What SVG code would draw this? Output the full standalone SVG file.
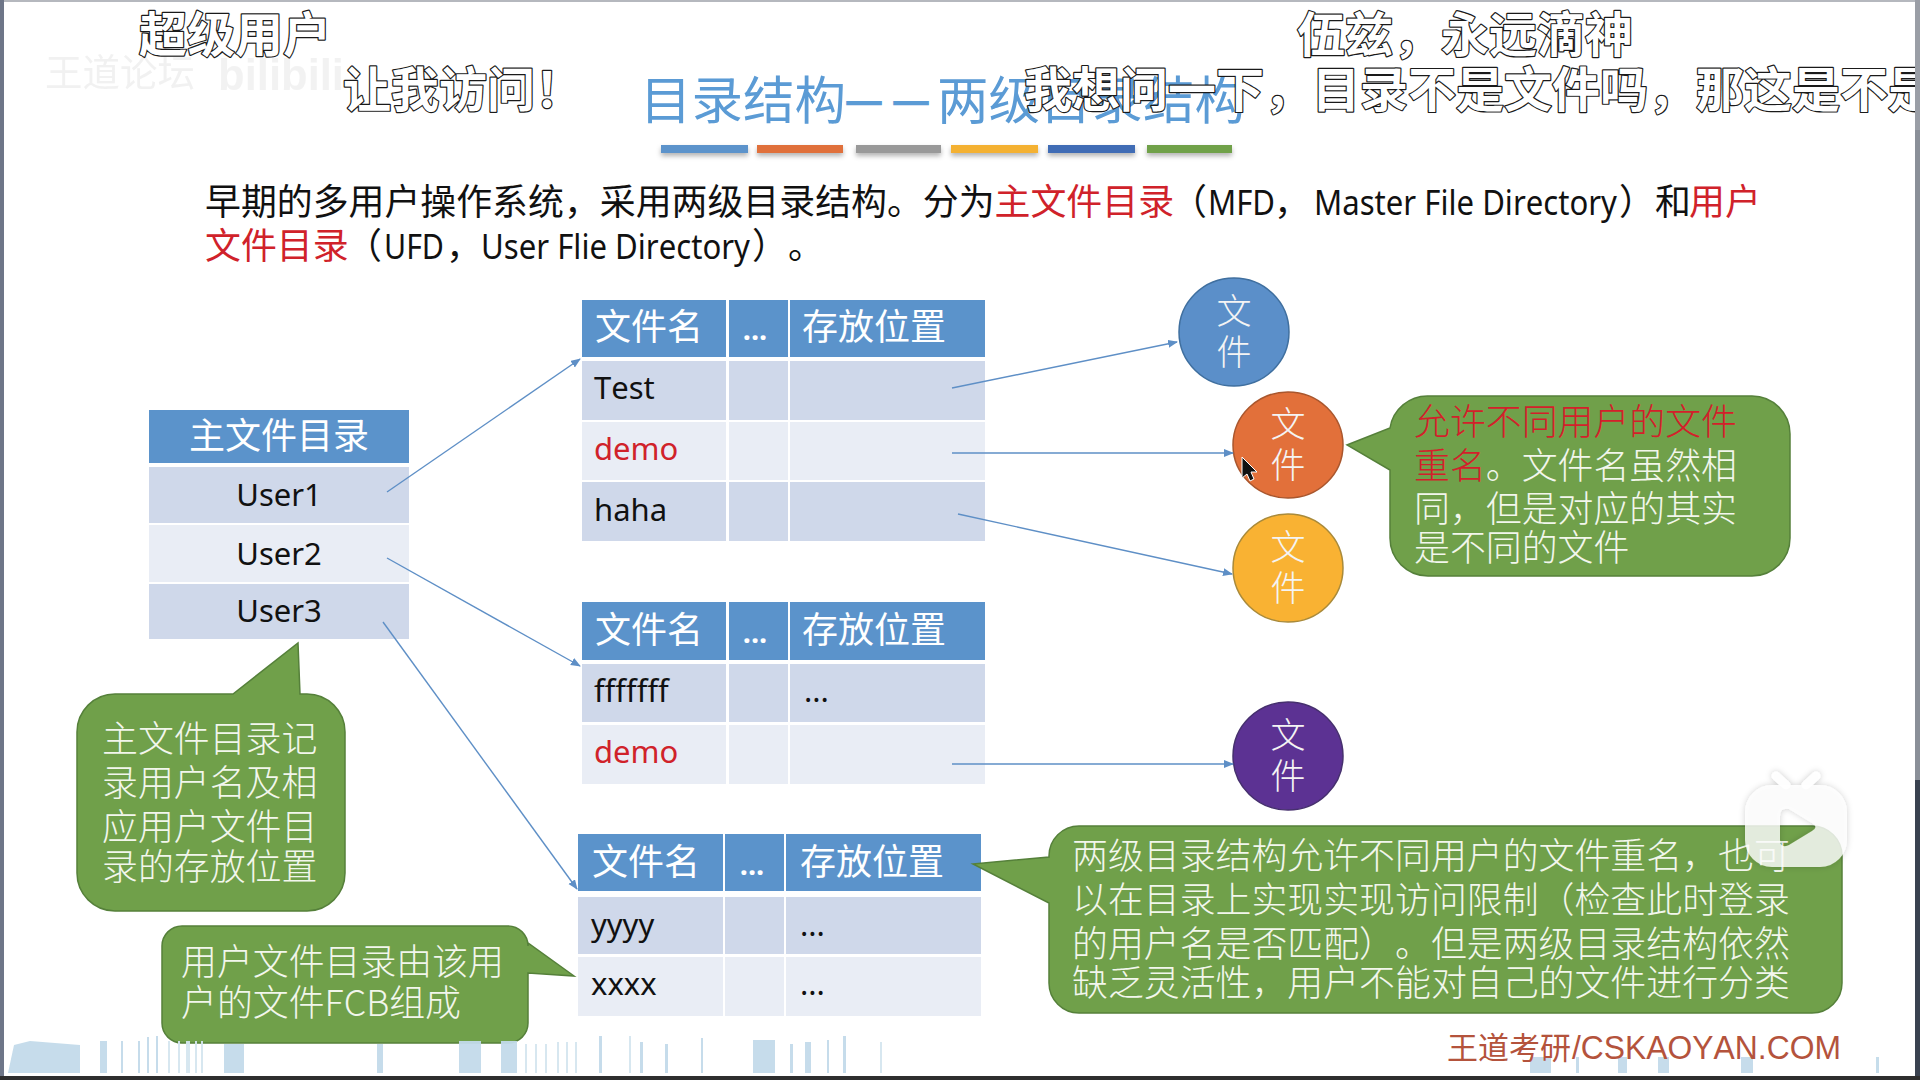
<svg xmlns="http://www.w3.org/2000/svg" width="1920" height="1080" viewBox="0 0 1920 1080">
<style>
text{font-family:"Noto Sans CJK SC","Noto Sans",sans-serif;text-spacing-trim:space-all;font-kerning:none}
.body{font-size:35.9px;fill:#111}
.red{fill:#D0222A}
.lat{font-family:"Noto Sans","Noto Sans CJK SC",sans-serif;font-size:35px}
.wt{font-size:35.9px;fill:#F2F6EC;font-weight:300}
.hd{font-size:36px;fill:#fff}
.dots{font-size:29px;fill:#fff;font-weight:700;text-anchor:middle;font-family:"Noto Sans",sans-serif}
.cell{font-size:31px;fill:#111;font-family:"Noto Sans","Noto Sans CJK SC",sans-serif}
.dk{fill:#CFD8EA}
.lt{fill:#E9EDF5}
.h{fill:#5B93CB}
.sub{font-size:48px;font-weight:700;fill:#fff;stroke:#1a1a1a;stroke-width:2.4px;paint-order:stroke;stroke-linejoin:round}
.co{fill:#70A04A;stroke:#55803A;stroke-width:1.5}
.c{stroke-width:1.5}
.ct{font-size:35px;fill:#F4F4F4;text-anchor:middle;font-weight:300}
.ar{fill:none;stroke:#5E8FC6;stroke-width:1.4;marker-end:url(#ah)}
.b{fill:#C3DBEA}
.bt{fill:#D5E6F0}
.tt{font-size:51.5px;fill:#5B9BD5}
.ds{font-size:44px;fill:#5B9BD5;font-weight:700}
</style>
<defs>
<marker id="ah" markerWidth="12" markerHeight="10" refX="9" refY="4" orient="auto" markerUnits="userSpaceOnUse"><path d="M0 0L10 4L0 8Z" fill="#5E8FC6"/></marker>
<filter id="sh" x="-10%" y="-60%" width="120%" height="300%"><feDropShadow dx="0" dy="3" stdDeviation="2.5" flood-color="#000" flood-opacity=".3"/></filter>
<filter id="soft" x="-20%" y="-20%" width="140%" height="140%"><feDropShadow dx="0" dy="0" stdDeviation="3" flood-color="#000" flood-opacity=".22"/></filter>
</defs>
<rect width="1920" height="1080" fill="#fff"/>
<rect x="0" y="0" width="1920" height="2" fill="#B5B8BE"/>
<rect x="0" y="0" width="4" height="1080" fill="#6E7688"/>
<rect x="1915" y="0" width="5" height="1080" fill="#8A8F98"/>
<rect x="1915" y="780" width="5" height="300" fill="#3A4250"/>
<rect x="0" y="1076" width="1920" height="4" fill="#2E2E2E"/>

<g id="title">
<text class="tt" x="640" y="119">目录结构</text>
<text class="ds" x="844" y="116">—</text>
<text class="ds" x="891" y="116">—</text>
<text class="tt" x="937" y="119">两级目录结构</text>
<g filter="url(#sh)">
<rect x="661" y="145" width="87" height="8" fill="#5B93CB"/>
<rect x="757" y="145" width="86" height="8" fill="#E0703A"/>
<rect x="856" y="145" width="85" height="8" fill="#999"/>
<rect x="951" y="145" width="87" height="8" fill="#F4B133"/>
<rect x="1048" y="145" width="87" height="8" fill="#3F6CB5"/>
<rect x="1147" y="145" width="85" height="8" fill="#6FA14A"/>
</g>
</g>

<g id="intro">
<text class="body" x="205" y="215">早期的多用户操作系统，采用两级目录结构。分为<tspan class="red">主文件目录</tspan></text>
<text class="body" x="1171" y="215">（</text>
<text class="body lat" x="1208" y="215" textLength="67" lengthAdjust="spacingAndGlyphs">MFD</text>
<text class="body" x="1274" y="215">，</text>
<text class="body lat" x="1314" y="215" textLength="303" lengthAdjust="spacingAndGlyphs">Master File Directory</text>
<text class="body" x="1619" y="215">）和</text>
<text class="body red" x="1689" y="215">用户</text>
<text class="body red" x="205" y="259">文件目录</text>
<text class="body" x="346" y="259">（</text>
<text class="body lat" x="384" y="259" textLength="60" lengthAdjust="spacingAndGlyphs">UFD</text>
<text class="body" x="446" y="259">，</text>
<text class="body lat" x="481" y="259" textLength="269" lengthAdjust="spacingAndGlyphs">User Flie Directory</text>
<text class="body" x="752" y="259">）。</text>
</g>

<g id="node-mfd">
<rect class="h" x="149" y="410" width="260" height="53"/>
<rect class="dk" x="149" y="467" width="260" height="56"/>
<rect class="lt" x="149" y="525" width="260" height="57"/>
<rect class="dk" x="149" y="584" width="260" height="55"/>
<text class="hd" x="279" y="449" text-anchor="middle">主文件目录</text>
<text class="cell" x="279" y="506" text-anchor="middle">User1</text>
<text class="cell" x="279" y="565" text-anchor="middle">User2</text>
<text class="cell" x="279" y="622" text-anchor="middle">User3</text>
</g>

<g id="node-ufd1">
<rect class="h" x="582" y="300" width="144" height="57"/><rect class="h" x="729" y="300" width="59" height="57"/><rect class="h" x="790" y="300" width="195" height="57"/>
<rect class="dk" x="582" y="361" width="144" height="59"/><rect class="dk" x="729" y="361" width="59" height="59"/><rect class="dk" x="790" y="361" width="195" height="59"/>
<rect class="lt" x="582" y="422" width="144" height="58"/><rect class="lt" x="729" y="422" width="59" height="58"/><rect class="lt" x="790" y="422" width="195" height="58"/>
<rect class="dk" x="582" y="482" width="144" height="59"/><rect class="dk" x="729" y="482" width="59" height="59"/><rect class="dk" x="790" y="482" width="195" height="59"/>
<text class="hd" x="595" y="340">文件名</text><text class="dots" x="755" y="340">...</text><text class="hd" x="802" y="340">存放位置</text>
<text class="cell" x="594" y="399">Test</text>
<text class="cell" x="594" y="460" style="fill:#D0222A">demo</text>
<text class="cell" x="594" y="521">haha</text>
</g>

<g id="node-ufd2">
<rect class="h" x="582" y="602" width="144" height="58"/><rect class="h" x="729" y="602" width="59" height="58"/><rect class="h" x="790" y="602" width="195" height="58"/>
<rect class="dk" x="582" y="664" width="144" height="58"/><rect class="dk" x="729" y="664" width="59" height="58"/><rect class="dk" x="790" y="664" width="195" height="58"/>
<rect class="lt" x="582" y="725" width="144" height="59"/><rect class="lt" x="729" y="725" width="59" height="59"/><rect class="lt" x="790" y="725" width="195" height="59"/>
<text class="hd" x="595" y="643">文件名</text><text class="dots" x="755" y="643">...</text><text class="hd" x="802" y="643">存放位置</text>
<text class="cell" x="594" y="702">fffffff</text><text class="cell" x="804" y="702">...</text>
<text class="cell" x="594" y="763" style="fill:#D0222A">demo</text>
</g>

<g id="node-ufd3">
<rect class="h" x="578" y="834" width="145" height="57"/><rect class="h" x="725" y="834" width="59" height="57"/><rect class="h" x="786" y="834" width="195" height="57"/>
<rect class="dk" x="578" y="897" width="145" height="57"/><rect class="dk" x="725" y="897" width="59" height="57"/><rect class="dk" x="786" y="897" width="195" height="57"/>
<rect class="lt" x="578" y="957" width="145" height="59"/><rect class="lt" x="725" y="957" width="59" height="59"/><rect class="lt" x="786" y="957" width="195" height="59"/>
<text class="hd" x="592" y="875">文件名</text><text class="dots" x="752" y="875">...</text><text class="hd" x="800" y="875">存放位置</text>
<text class="cell" x="591" y="936">yyyy</text><text class="cell" x="800" y="936">...</text>
<text class="cell" x="591" y="995">xxxx</text><text class="cell" x="800" y="995">...</text>
</g>

<g id="node-file1"><ellipse class="c" cx="1234" cy="332" rx="55" ry="54" fill="#5B8FC9" stroke="#3F6F9F"/><text class="ct" x="1234" y="324">文</text><text class="ct" x="1234" y="365">件</text></g>
<g id="node-file2"><ellipse class="c" cx="1288" cy="445" rx="55" ry="53" fill="#E2703A" stroke="#A9562D"/><text class="ct" x="1288" y="437">文</text><text class="ct" x="1288" y="478">件</text></g>
<g id="node-file3"><ellipse class="c" cx="1288" cy="568" rx="55" ry="54" fill="#F9B233" stroke="#A98A3A"/><text class="ct" x="1288" y="560">文</text><text class="ct" x="1288" y="601">件</text></g>
<g id="node-file4"><ellipse class="c" cx="1288" cy="756" rx="55" ry="54" fill="#5C3293" stroke="#46306E"/><text class="ct" x="1288" y="748">文</text><text class="ct" x="1288" y="789">件</text></g>

<g id="connectors">
<path class="ar" d="M387 492L580 359"/>
<path class="ar" d="M387 558L580 666"/>
<path class="ar" d="M383 622L577 889"/>
<path class="ar" d="M952 388L1177 342"/>
<path class="ar" d="M952 453L1233 453"/>
<path class="ar" d="M958 514L1232 574"/>
<path class="ar" d="M952 764L1233 764"/>
</g>

<g id="node-note-rename">
<path class="co" d="M1428 396H1752A38 38 0 0 1 1790 434V538A38 38 0 0 1 1752 576H1428A38 38 0 0 1 1390 538V470L1347 445L1390 428A38 38 0 0 1 1428 396Z"/>
<text x="1414" y="435" font-size="35.9" font-weight="300" fill="#D3202A">允许不同用户的文件</text>
<text x="1414" y="479" font-size="35.9" font-weight="300"><tspan fill="#D3202A">重名</tspan><tspan fill="#F2F6EC">。文件名虽然相</tspan></text>
<text class="wt" x="1414" y="522">同，但是对应的其实</text>
<text class="wt" x="1414" y="561">是不同的文件</text>
</g>

<g id="node-note-mfd">
<path class="co" d="M115 694H233L298 643L300 694H307A38 38 0 0 1 345 732V873A38 38 0 0 1 307 911H115A38 38 0 0 1 77 873V732A38 38 0 0 1 115 694Z"/>
<text class="wt" x="102" y="752">主文件目录记</text>
<text class="wt" x="102" y="796">录用户名及相</text>
<text class="wt" x="102" y="840">应用户文件目</text>
<text class="wt" x="102" y="880">录的存放位置</text>
</g>

<g id="node-note-ufd">
<path class="co" d="M182 926H508A20 20 0 0 1 528 946V943L574 976L528 973V1023A20 20 0 0 1 508 1043H182A20 20 0 0 1 162 1023V946A20 20 0 0 1 182 926Z"/>
<text class="wt" x="181" y="975">用户文件目录由该用</text>
<text class="wt" x="181" y="1016">户的文件FCB组成</text>
</g>

<g id="node-note-summary">
<path class="co" d="M1079 826H1812A30 30 0 0 1 1842 856V983A30 30 0 0 1 1812 1013H1079A30 30 0 0 1 1049 983V903L973 864L1049 857V856A30 30 0 0 1 1079 826Z"/>
<text class="wt" x="1072" y="869">两级目录结构允许不同用户的文件重名，也可</text>
<text class="wt" x="1072" y="913">以在目录上实现实现访问限制（检查此时登录</text>
<text class="wt" x="1072" y="957">的用户名是否匹配）。但是两级目录结构依然</text>
<text class="wt" x="1072" y="996">缺乏灵活性，用户不能对自己的文件进行分类</text>
</g>

<g id="cursor"><path d="M1242 457V478L1247 474L1250 481L1254 479L1251 472L1257 472Z" fill="#111" stroke="#fff" stroke-width="1"/></g>

<g id="footer-bars" opacity=".95">
<path class="b" d="M8 1073L14 1045L30 1041L80 1045V1073Z"/>
<rect class="b" x="100" y="1041" width="7" height="32"/><rect class="b" x="121" y="1041" width="2" height="32"/><rect class="b" x="138" y="1041" width="2" height="32"/><rect class="b" x="147" y="1037" width="2" height="36"/><rect class="b" x="156" y="1036" width="2" height="37"/>
<rect class="bt" x="168" y="1041" width="2" height="32"/><rect class="bt" x="178" y="1041" width="2" height="32"/><rect class="bt" x="186" y="1041" width="4" height="32"/><rect class="bt" x="195" y="1041" width="2" height="32"/><rect class="bt" x="201" y="1041" width="2" height="32"/>
<rect class="b" x="224" y="1044" width="20" height="29"/><rect class="b" x="377" y="1044" width="6" height="29"/><rect class="b" x="459" y="1041" width="22" height="32"/><rect class="b" x="501" y="1041" width="16" height="32"/>
<rect class="bt" x="525" y="1044" width="2" height="29"/><rect class="bt" x="535" y="1044" width="2" height="29"/><rect class="bt" x="545" y="1044" width="2" height="29"/><rect class="bt" x="557" y="1042" width="2" height="31"/><rect class="bt" x="566" y="1042" width="2" height="31"/><rect class="bt" x="575" y="1042" width="2" height="31"/><rect class="b" x="599" y="1036" width="3" height="37"/><rect class="bt" x="629" y="1036" width="2" height="37"/><rect class="b" x="640" y="1042" width="3" height="31"/><rect class="b" x="665" y="1044" width="3" height="29"/><rect class="b" x="701" y="1038" width="2" height="35"/>
<rect class="b" x="753" y="1040" width="22" height="33"/><rect class="b" x="790" y="1044" width="3" height="29"/><rect class="b" x="805" y="1042" width="6" height="31"/><rect class="b" x="827" y="1040" width="2" height="33"/><rect class="b" x="843" y="1036" width="3" height="37"/><rect class="bt" x="880" y="1042" width="2" height="31"/>
<rect class="b" x="1530" y="1057" width="21" height="16"/><rect class="b" x="1576" y="1057" width="3" height="16"/><rect class="b" x="1618" y="1057" width="9" height="16"/><rect class="b" x="1658" y="1057" width="11" height="16"/><rect class="b" x="1741" y="1057" width="12" height="16"/><rect class="b" x="1876" y="1057" width="3" height="16"/>
</g>

<g id="brand">
<text x="1447" y="1059" font-size="31" fill="#B4533C">王道考研</text>
<text x="1572" y="1059" font-size="33" fill="#B4533C" style="font-family:'Liberation Sans',sans-serif" textLength="269" lengthAdjust="spacingAndGlyphs">/CSKAOYAN.COM</text>
</g>

<g id="watermark" fill="#E6E6E6">
<text x="45" y="86" font-size="38" opacity=".55" textLength="150" lengthAdjust="spacingAndGlyphs">王道论坛</text>
<text x="218" y="90" font-size="44" font-weight="700" opacity=".5" style="font-family:'Liberation Sans',sans-serif" textLength="126" lengthAdjust="spacingAndGlyphs">bilibili</text>
</g>

<g id="tv-icon" filter="url(#soft)">
<path fill="#fff" fill-opacity=".8" fill-rule="evenodd" d="M1772 785H1820A27 27 0 0 1 1847 812V840A27 27 0 0 1 1820 867H1772A27 27 0 0 1 1745 840V812A27 27 0 0 1 1772 785ZM1780 816Q1780 807 1789 809L1812 823Q1819 827 1812 831L1789 845Q1780 849 1780 840Z"/>
<path d="M1776 776L1786 785M1816 776L1806 785" stroke="#fff" stroke-opacity=".95" stroke-width="9" stroke-linecap="round"/>
</g>

<g id="subtitles">
<text class="sub" x="139" y="52">超级用户</text>
<text class="sub" x="343" y="107">让我访问！</text>
<text class="sub" x="1297" y="52">伍兹，永远滴神</text>
<text class="sub" x="1024" y="107">我想问一下，目录不是文件吗，那这是不是</text>
</g>
<rect x="1915" y="0" width="5" height="130" fill="#9A9EA6"/>
</svg>
